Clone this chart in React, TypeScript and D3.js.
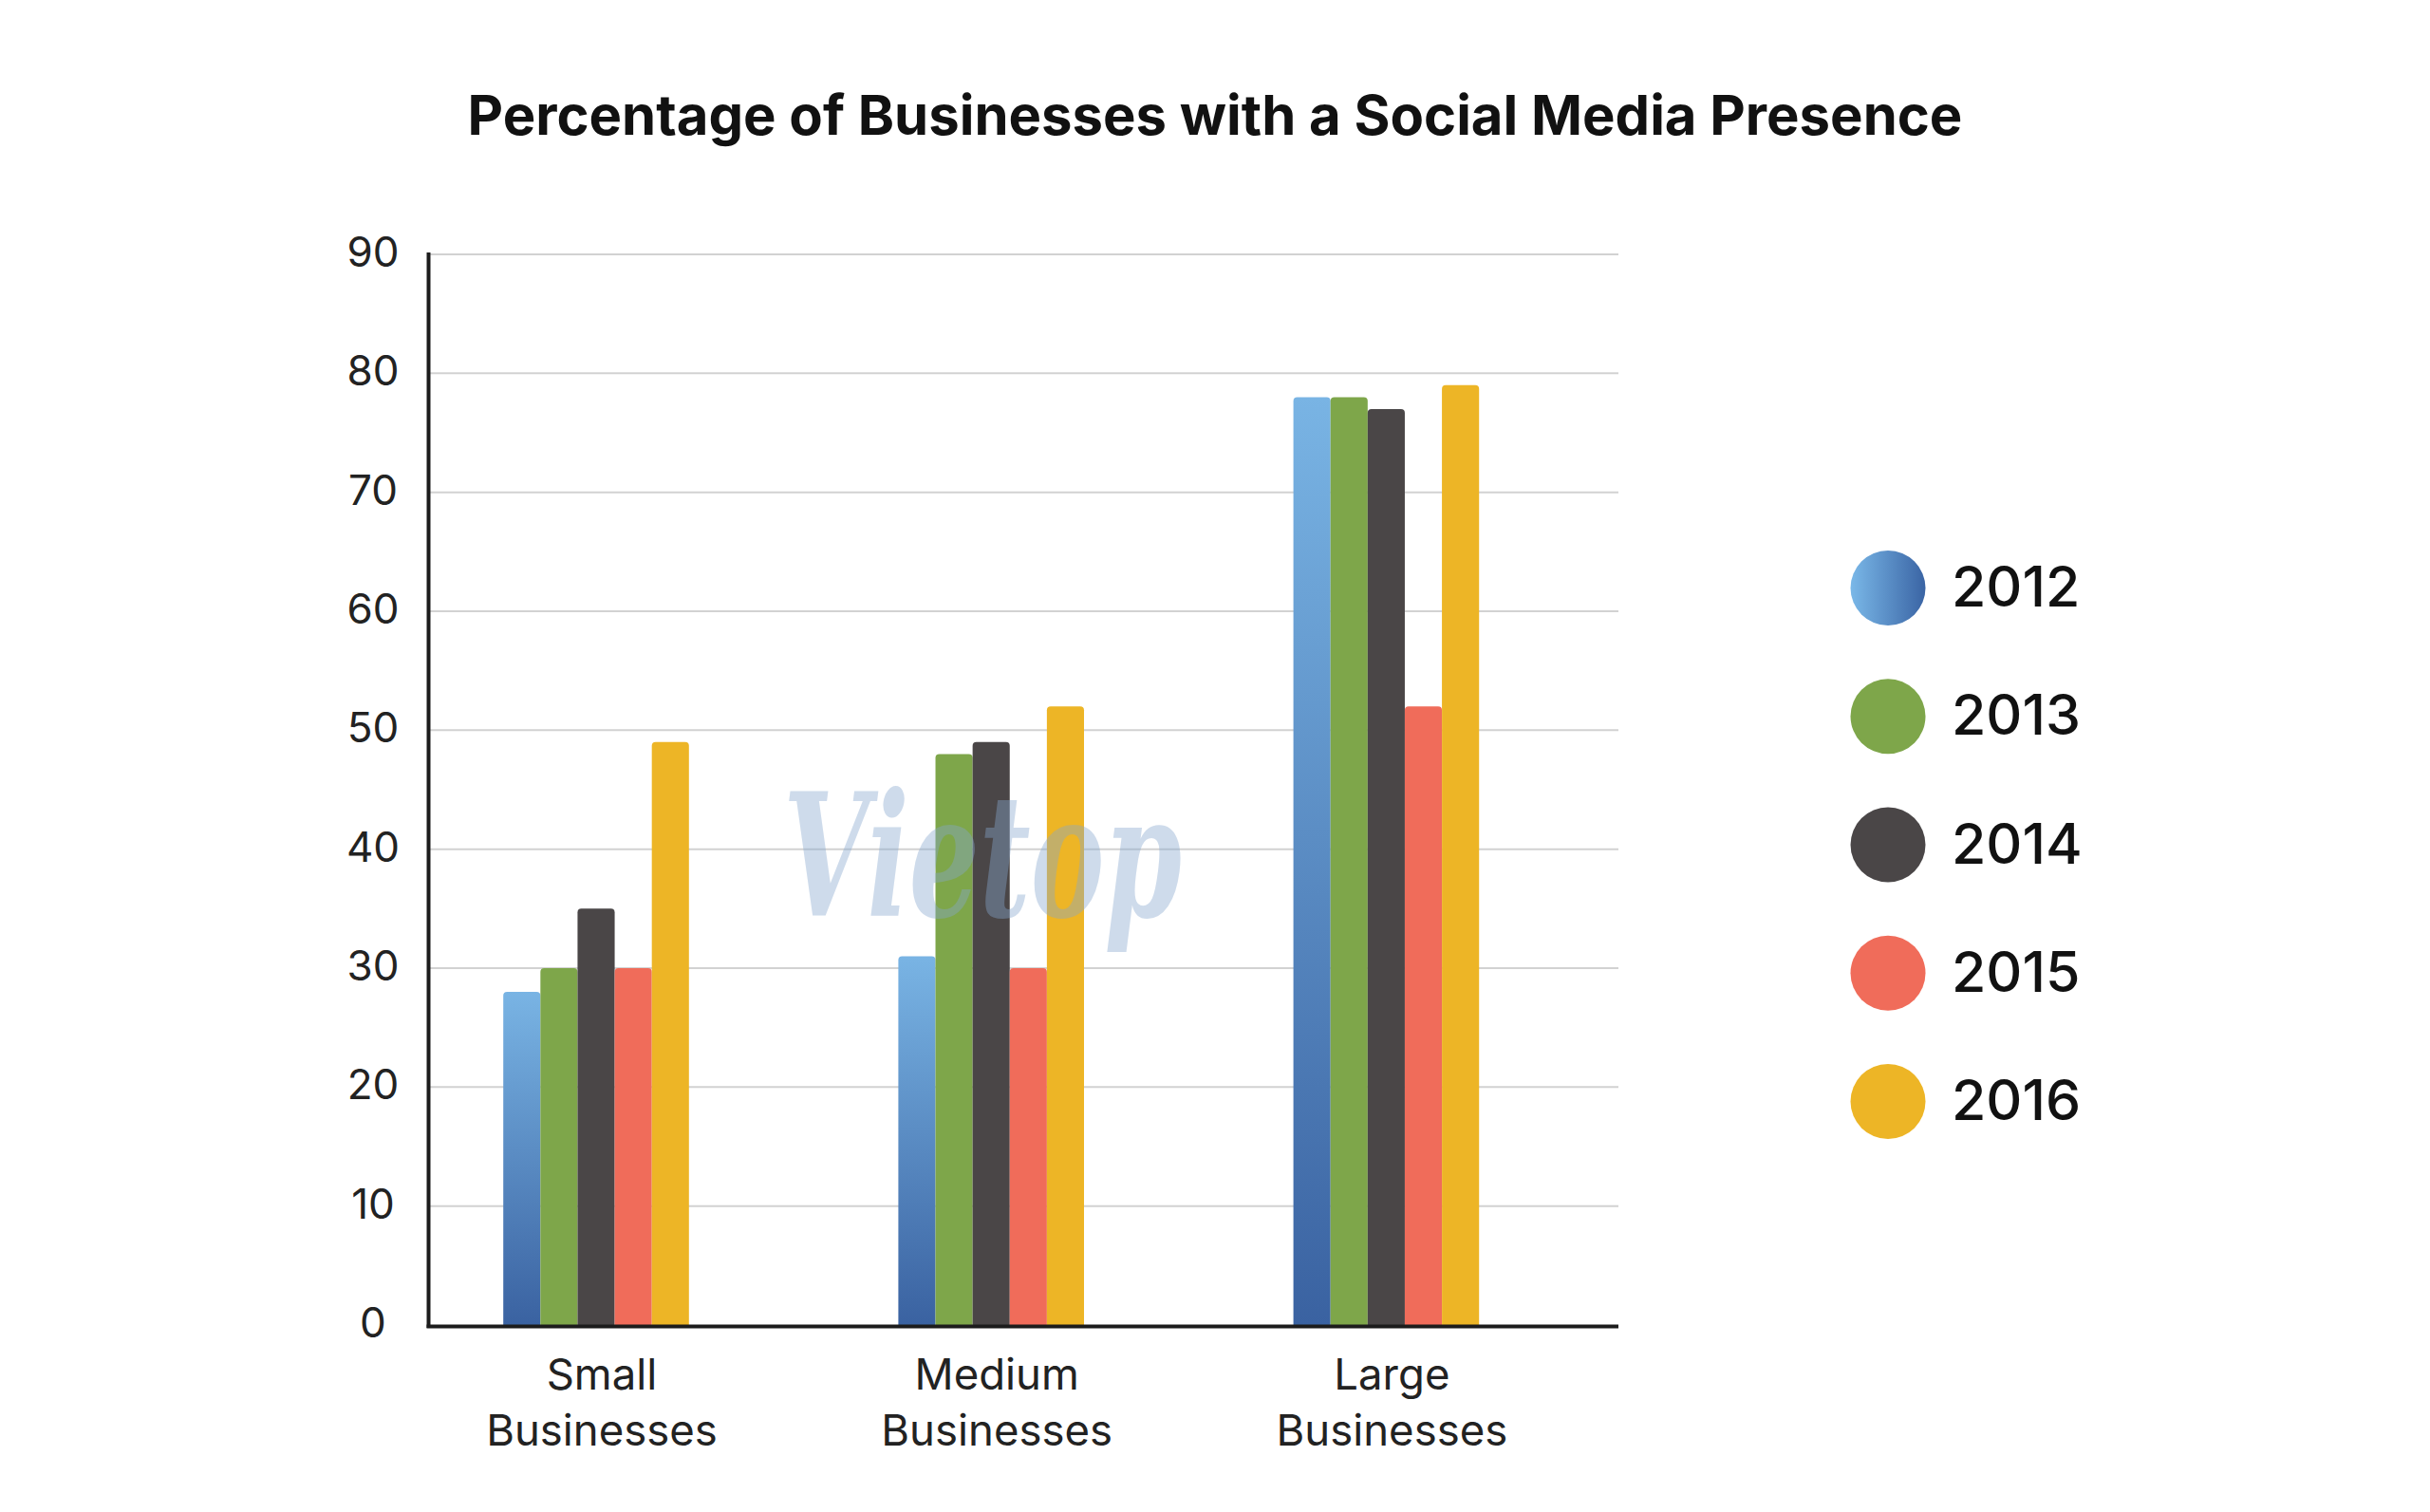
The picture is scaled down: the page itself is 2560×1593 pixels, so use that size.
import React from "react";
import * as d3 from "d3";

const categories = ["Small Businesses", "Medium Businesses", "Large Businesses"];
const categoryLines = [["Small", "Businesses"], ["Medium", "Businesses"], ["Large", "Businesses"]];
const years = ["2012", "2013", "2014", "2015", "2016"];
const v2012 = [28, 31, 78];
const v2013 = [30, 48, 78];
const v2014 = [35, 49, 77];
const v2015 = [30, 30, 52];
const v2016 = [49, 52, 79];
const yTicks = [0, 10, 20, 30, 40, 50, 60, 70, 80, 90];
const yearColors = ["url(#barGrad2012)", "#7ea64a", "#4a4647", "#f06c5a", "#edb526"];
const legendColors = ["url(#legGrad2012)", "#7ea64a", "#4a4647", "#f06c5a", "#edb526"];
const title = "Percentage of Businesses with a Social Media Presence";

const seriesValues = [v2012, v2013, v2014, v2015, v2016];

const W = 2560;
const H = 1593;
const FONT = "Inter, 'Noto Sans', sans-serif";

function roundTopRect(x: number, y: number, w: number, h: number, r: number) {
  const rr = Math.min(r, h, w / 2);
  const p = d3.path();
  p.moveTo(x, y + h);
  p.lineTo(x, y + rr);
  p.quadraticCurveTo(x, y, x + rr, y);
  p.lineTo(x + w - rr, y);
  p.quadraticCurveTo(x + w, y, x + w, y + rr);
  p.lineTo(x + w, y + h);
  p.closePath();
  return p.toString();
}

export default function App() {
  const plotLeft = 451.5;
  const plotRight = 1705;
  const y = d3.scaleLinear().domain([0, 90]).range([1396, 268]);
  const x0 = d3
    .scaleBand<string>()
    .domain(categories)
    .range([530.2, 1558.2])
    .paddingInner(0.53)
    .paddingOuter(0);
  const x1 = d3.scaleBand<string>().domain(years).range([0, x0.bandwidth()]).padding(0);

  const legendY = d3.scalePoint<string>().domain(years).range([619.5, 1160.5]);

  return (
    <svg
      width={W}
      height={H}
      viewBox={`0 0 ${W} ${H}`}
      style={{ position: "absolute", left: 0, top: 0, background: "#ffffff" }}
    >
      <defs>
        <linearGradient id="barGrad2012" x1="0" y1="0" x2="0" y2="1">
          <stop offset="0%" stopColor="#79b4e4" />
          <stop offset="100%" stopColor="#3a62a1" />
        </linearGradient>
        <linearGradient id="legGrad2012" x1="0" y1="0" x2="1" y2="0">
          <stop offset="0%" stopColor="#7ab8e8" />
          <stop offset="100%" stopColor="#3a64a4" />
        </linearGradient>
      </defs>
      <rect x={0} y={0} width={W} height={H} fill="#ffffff" />

      <text
        x={W / 2}
        y={142}
        textAnchor="middle"
        fontFamily={FONT}
        fontWeight={700}
        fontSize={58}
        fill="#111111"
      >
        {title}
      </text>

      {/* gridlines */}
      {yTicks
        .filter((t) => t > 0)
        .map((t) => (
          <line
            key={"g" + t}
            x1={plotLeft}
            x2={plotRight}
            y1={y(t)}
            y2={y(t)}
            stroke="#d2d2d2"
            strokeWidth={2}
          />
        ))}

      {/* tick labels */}
      {yTicks.map((t) => (
        <text
          key={"t" + t}
          x={393}
          y={y(t) - 3}
          textAnchor="middle"
          dominantBaseline="central"
          fontFamily={FONT}
          fontSize={44}
          fill="#222222"
        >
          {t}
        </text>
      ))}

      {/* bars */}
      {categories.map((c, ci) => (
        <g key={c} transform={`translate(${x0(c)},0)`}>
          {years.map((yr, yi) => {
            const v = seriesValues[yi][ci];
            const top = y(v);
            return (
              <path
                key={yr}
                d={roundTopRect(x1(yr)!, top, x1.bandwidth(), y(0) - top, 4)}
                fill={yearColors[yi]}
              />
            );
          })}
        </g>
      ))}

      {/* watermark */}
      <text
        x={1035}
        y={965}
        textAnchor="middle"
        fontFamily="'DejaVu Serif', serif"
        fontStyle="italic"
        fontWeight={700}
        fontSize={180}
        textLength={420}
        lengthAdjust="spacingAndGlyphs"
        fill="#86a7cf"
        opacity={0.4}
      >
        Vietop
      </text>

      {/* axes */}
      <line x1={plotLeft} x2={plotLeft} y1={266} y2={1399} stroke="#1c1c1c" strokeWidth={4} />
      <line x1={plotLeft - 2} x2={plotRight} y1={1397.5} y2={1397.5} stroke="#1c1c1c" strokeWidth={4} />

      {/* category labels */}
      {categories.map((c, ci) => (
        <text
          key={"c" + c}
          x={x0(c)! + x0.bandwidth() / 2 + 6}
          y={1464}
          textAnchor="middle"
          fontFamily={FONT}
          fontSize={45.5}
          fill="#222222"
        >
          {categoryLines[ci].map((ln, li) => (
            <tspan key={li} x={x0(c)! + x0.bandwidth() / 2 + 6} dy={li === 0 ? 0 : 59}>
              {ln}
            </tspan>
          ))}
        </text>
      ))}

      {/* legend */}
      {years.map((yr, yi) => (
        <g key={"l" + yr} transform={`translate(1989,${legendY(yr)})`}>
          <circle r={39.5} fill={legendColors[yi]} />
          <text
            x={67}
            y={-2}
            dominantBaseline="central"
            fontFamily={FONT}
            fontSize={59}
            fontWeight={500}
            fill="#111111"
          >
            {yr}
          </text>
        </g>
      ))}
    </svg>
  );
}
